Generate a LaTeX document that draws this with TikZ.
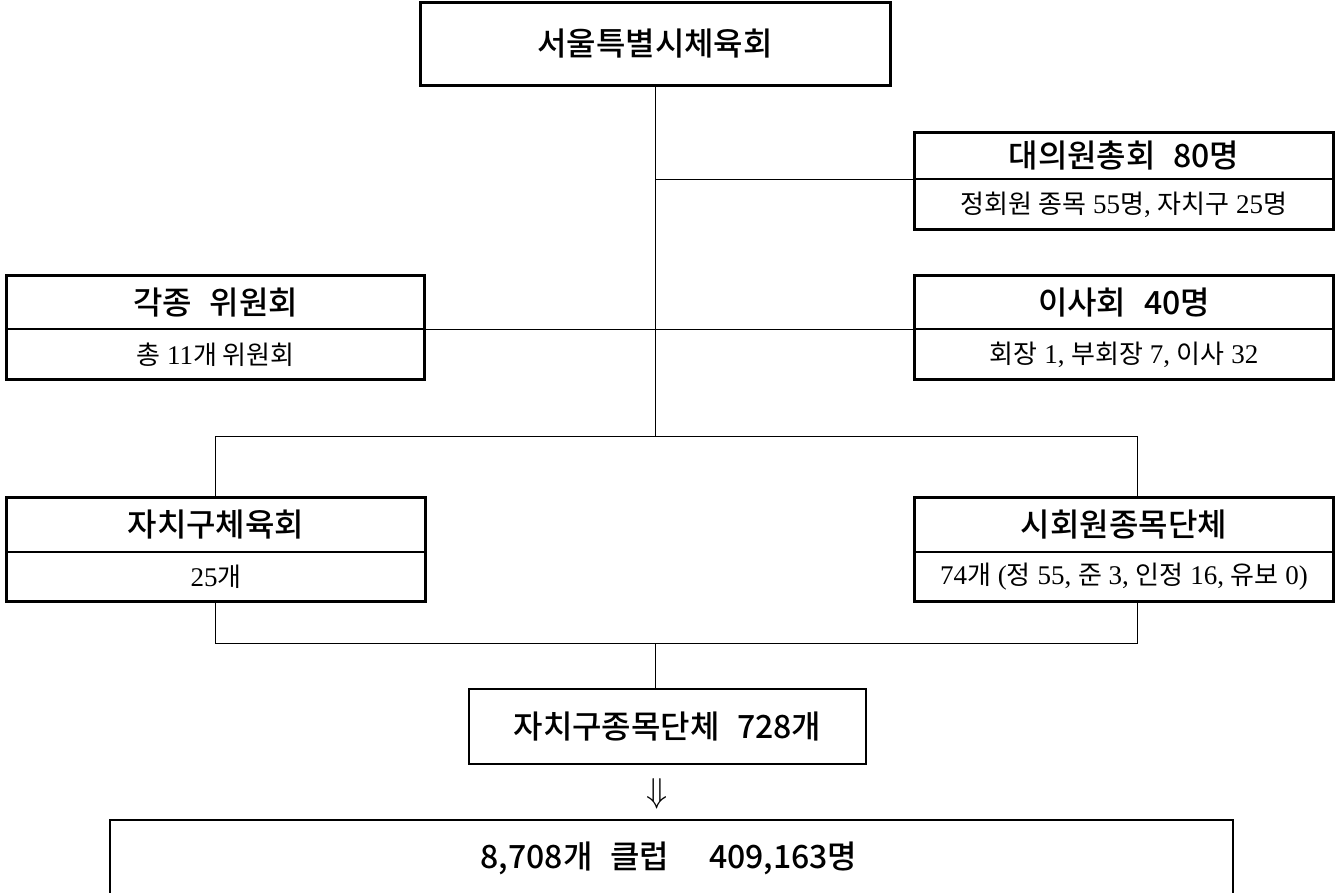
\documentclass[tikz,border=0pt]{standalone}
\usepackage{fontspec}
\setmainfont{Liberation Serif}
\newfontfamily\kr{Noto Sans CJK KR}
\newfontfamily\krm{Noto Sans CJK KR Medium}
\usetikzlibrary{positioning}
\tikzset{
  head/.style={font=\krm\fontsize{16}{19}\selectfont, draw, line width=0.5pt, fill=white,
    inner sep=0pt, minimum width=209pt, minimum height=26.5pt},
  sub/.style={font=\fontsize{13.5}{16}\selectfont, draw, line width=0.5pt, fill=white,
    inner sep=0pt, minimum width=209pt, minimum height=24.5pt},
  frame/.style={line width=1.2pt},
  link/.style={line width=0.5pt}
}
\newcommand{\kor}[1]{{\kr\fontsize{13}{15}\selectfont #1}}
\newcommand{\gap}{\hspace{0.55em}}

\begin{document}
\begin{tikzpicture}[x=0.5pt,y=-0.5pt]
  \useasboundingbox (0,0) rectangle (1340,893);

  % top
  \node[head, minimum width=234.5pt, minimum height=41pt] (seoul) at (655,44) {서울특별시체육회};

  % right side
  \node[head, minimum height=23pt] (dae) at (1124,156) {대의원총회\gap 80명};
  \node[sub, below=0pt of dae] (daesub) {\kor{정회원 종목} 55\kor{명}, \kor{자치구} 25\kor{명}};
  \node[head] (isa) at (1124,302.5) {이사회\gap 40명};
  \node[sub, below=0pt of isa] (isasub) {\kor{회장} 1, \kor{부회장} 7, \kor{이사} 32};

  % left side
  \node[head, minimum width=208.5pt] (gak) at (215.5,302.5) {각종\gap 위원회};
  \node[sub, minimum width=208.5pt, below=0pt of gak] (gaksub) {\kor{총} 11\kor{개 위원회}};

  % second level
  \node[head] (jachi) at (216,524.5) {자치구체육회};
  \node[sub, below=0pt of jachi] (jachisub) {25\kor{개}};
  \node[head] (si) at (1124,524.5) {시회원종목단체};
  \node[sub, below=0pt of si] (sisub) {74\kor{개} (\kor{정} 55, \kor{준} 3, \kor{인정} 16, \kor{유보} 0)};

  \node[head, line width=1.2pt, minimum width=198.5pt, minimum height=37.5pt] (jong) at (667.5,726.5) {자치구종목단체\gap 728개};
  \node[font=\LARGE] (arrow) at (657,794) {$\Downarrow$};
  \node[font=\krm\fontsize{16}{19}\selectfont] (club) at (669,858) {8,708개\gap 클럽\hspace{1.25em}409,163명};

  \foreach \b in {dae,isa,gak,jachi,si}
    \draw[frame] (\b.north west) rectangle (\b sub.south east);
  \draw[frame, line width=1.5pt] (seoul.north west) rectangle (seoul.south east);
  \draw[frame] (110,900) -- (110,820) -- (1233,820) -- (1233,900);

  % connectors
  \coordinate (forkL) at (215,437);
  \coordinate (forkR) at (1137,437);
  \coordinate (joinL) at (215,643);
  \coordinate (joinR) at (1137,643);
  \draw[link] (seoul.south) -- (seoul.south |- forkL);
  \draw[link] (dae.south west) -- (dae.south west -| seoul.south);
  \draw[link] (gak.south east) -- (isa.south west);
  \draw[link] (jachi.north -| forkL) -- (forkL) -- (forkR) -- (si.north -| forkR);
  \draw[link] (jachisub.south -| joinL) -- (joinL) -- (joinR) -- (sisub.south -| joinR);
  \draw[link] (seoul.south |- joinL) -- (seoul.south |- jong.north);
\end{tikzpicture}
\end{document}
